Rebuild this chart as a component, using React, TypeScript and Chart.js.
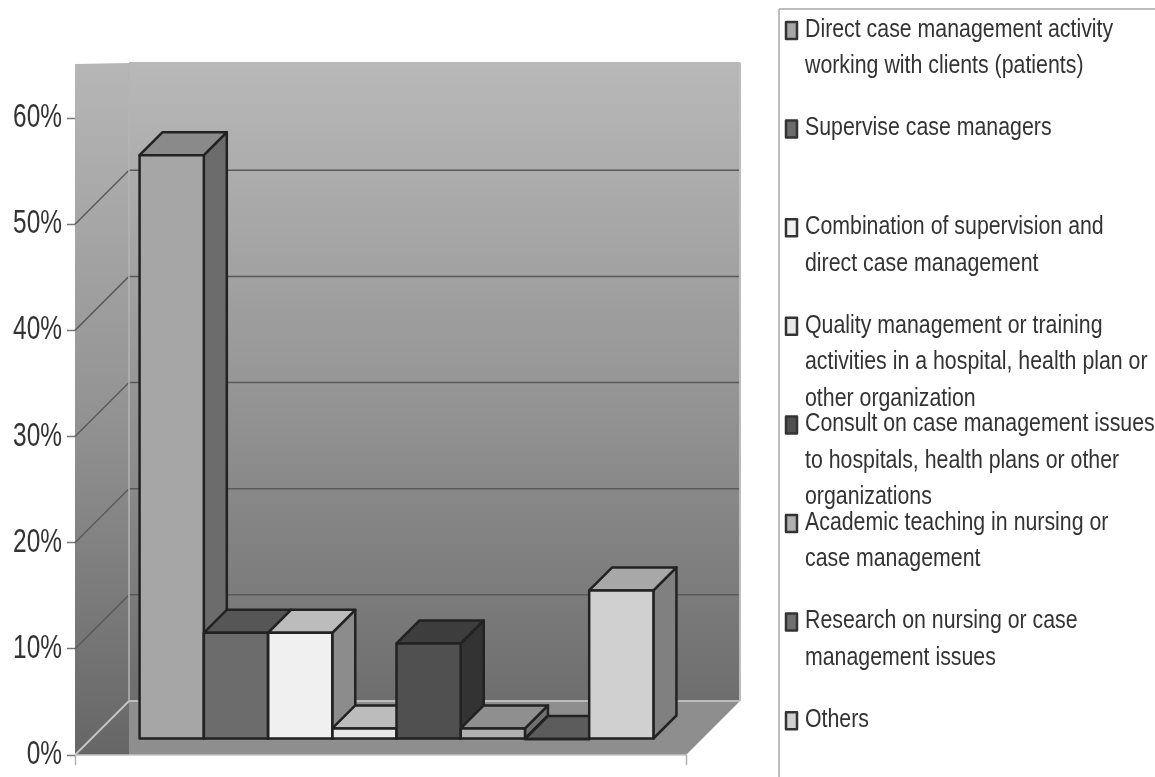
import React, { useEffect, useRef } from "react";
import { Chart, registerables } from "chart.js";

Chart.register(...registerables);

// Share of respondents per primary job activity (percent)
const activityShare = [55, 10, 10, 1, 9, 1, 0, 14];

const activityLabels = [
  ["Direct case management activity", "working with clients (patients)"],
  ["Supervise case managers"],
  ["Combination of supervision and", "direct case management"],
  ["Quality management or training", "activities in a hospital, health plan or", "other organization"],
  ["Consult on case management issues", "to hospitals, health plans or other", "organizations"],
  ["Academic teaching in nursing or", "case management"],
  ["Research on nursing or case", "management issues"],
  ["Others"],
];

const frontColors = ["#a6a6a6", "#6c6c6c", "#f0f0f0", "#e8e8e8", "#505050", "#b0b0b0", "#707070", "#d0d0d0"];
const sideColors = ["#6c6c6c", "#505050", "#8c8c8c", "#8c8c8c", "#333333", "#707070", "#505050", "#808080"];
const topColors = ["#8a8a8a", "#565656", "#bcbcbc", "#bcbcbc", "#3d3d3d", "#8f8f8f", "#5c5c5c", "#a8a8a8"];

const FONT = '"Liberation Sans", Arial, sans-serif';
const WALL_DEPTH = 54; // oblique offset of the back wall
const BAR_INSET = 16; // how far the bars stand behind the front edge of the floor
const BAR_DEPTH = 23; // oblique depth of each bar
const OUTLINE = "#222222";
const OUTLINE_WIDTH = 2.5;
const TEXT_COLOR = "#333333";

function poly(ctx: CanvasRenderingContext2D, pts: number[][], fill?: any, stroke?: string, lw = 2) {
  ctx.beginPath();
  pts.forEach((p, i) => (i ? ctx.lineTo(p[0], p[1]) : ctx.moveTo(p[0], p[1])));
  ctx.closePath();
  if (fill) {
    ctx.fillStyle = fill;
    ctx.fill();
  }
  if (stroke) {
    ctx.strokeStyle = stroke;
    ctx.lineWidth = lw;
    ctx.lineJoin = "round";
    ctx.stroke();
  }
}

function line(ctx: CanvasRenderingContext2D, x0: number, y0: number, x1: number, y1: number, color: string, lw = 1.5) {
  ctx.beginPath();
  ctx.moveTo(x0, y0);
  ctx.lineTo(x1, y1);
  ctx.strokeStyle = color;
  ctx.lineWidth = lw;
  ctx.stroke();
}

// The type in this chart is tall and narrow, so it is squeezed horizontally
function narrowText(ctx: CanvasRenderingContext2D, text: string, x: number, y: number, squeeze: number) {
  ctx.save();
  ctx.translate(x, y);
  ctx.scale(squeeze, 1);
  ctx.fillText(text, 0, 0);
  ctx.restore();
}

// Walls, floor and the depth faces of the columns; the front faces are the
// library's own bars, shifted back onto the floor by a canvas translation.
const obliqueBars = {
  id: "obliqueBars",
  beforeDatasetsDraw(chart: any) {
    const { ctx, chartArea: a, scales } = chart;
    const y = scales.y;
    const d = WALL_DEPTH;
    const y0 = y.getPixelForValue(0);
    const top = a.top;

    ctx.save();
    const leftGrad = ctx.createLinearGradient(0, top, 0, y0);
    leftGrad.addColorStop(0, "#b6b6b6");
    leftGrad.addColorStop(0.5, "#939393");
    leftGrad.addColorStop(1, "#666666");
    poly(ctx, [[a.left, y0], [a.left + d, y0], [a.left + d, top - 2], [a.left, top - 1]], leftGrad);

    const backGrad = ctx.createLinearGradient(0, top, 0, y0 - d);
    backGrad.addColorStop(0, "#b8b8b8");
    backGrad.addColorStop(0.5, "#969696");
    backGrad.addColorStop(0.85, "#7a7a7a");
    backGrad.addColorStop(1, "#6e6e6e");
    poly(ctx, [[a.left + d, y0 - d], [a.right + d, y0 - d], [a.right + d, top - 3], [a.left + d, top - 3]], backGrad);

    poly(ctx, [[a.left + d, y0], [a.right, y0], [a.right + d, y0 - d], [a.left + d, y0 - d]], "#8e8e8e");

    // Gridlines run along the left wall, then across the back wall
    y.ticks.forEach((t: any) => {
      if (t.value === 0 || t.value === 60) return;
      const py = y.getPixelForValue(t.value);
      line(ctx, a.left, py, a.left + d, py - d, "#5a5a5a");
      line(ctx, a.left + d, py - d, a.right + d, py - d, "#5a5a5a");
    });

    // Pale edges of the floor and the corner
    line(ctx, a.left, y0, a.left + d, y0 - d, "#c4c4c4", 2);
    line(ctx, a.left + d, y0 - d, a.right + d, y0 - d, "#bcbcbc", 2);
    line(ctx, a.left + d, y0 - d, a.left + d, top - 2, "#b4b4b4", 1.5);
    line(ctx, a.left, y0, a.right, y0, "#c4c4c4", 1.5);
    line(ctx, a.right + d, y0 - d, a.right + d, top - 2, "#bdbdbd", 2);

    // Depth faces, left to right so later columns overlap earlier ones
    chart.data.datasets.forEach((_: any, i: number) => {
      const bar = chart.getDatasetMeta(i).data[0];
      const l = bar.x - bar.width / 2 + BAR_INSET;
      const r = bar.x + bar.width / 2 + BAR_INSET;
      const t = bar.y - BAR_INSET;
      const b = bar.base - BAR_INSET;
      const k = BAR_DEPTH;
      poly(ctx, [[r, t], [r + k, t - k], [r + k, b - k], [r, b]], sideColors[i], OUTLINE, OUTLINE_WIDTH);
      poly(ctx, [[l, t], [r, t], [r + k, t - k], [l + k, t - k]], topColors[i], OUTLINE, OUTLINE_WIDTH);
    });
    ctx.restore();

    ctx.save();
    ctx.translate(BAR_INSET, -BAR_INSET);
  },
  afterDatasetsDraw(chart: any) {
    const { ctx } = chart;
    // Still translated here: outline each front face over its fill
    chart.data.datasets.forEach((_: any, i: number) => {
      const bar = chart.getDatasetMeta(i).data[0];
      const l = bar.x - bar.width / 2;
      const r = bar.x + bar.width / 2;
      poly(ctx, [[l, bar.y], [r, bar.y], [r, bar.base], [l, bar.base]], undefined, OUTLINE, OUTLINE_WIDTH);
    });
    ctx.restore();
  },
  afterDraw(chart: any) {
    const { ctx, scales } = chart;
    ctx.save();

    // Value labels beside the axis ticks
    ctx.font = `33px ${FONT}`;
    ctx.fillStyle = TEXT_COLOR;
    ctx.textAlign = "right";
    ctx.textBaseline = "middle";
    scales.y.ticks.forEach((t: any) => {
      narrowText(ctx, `${t.value}%`, 62, scales.y.getPixelForValue(t.value), 0.74);
    });

    // Frame of the key
    line(ctx, 779, 9, 779, 777, "#a8a8a8", 1.5);
    line(ctx, 779, 9, 1155, 9, "#a8a8a8", 1.5);
    const slot = 98.6;
    const lineGap = 36.5;
    ctx.textAlign = "left";
    ctx.font = `25px ${FONT}`;
    activityLabels.forEach((lines, i) => {
      const y = 30 + slot * i;
      poly(ctx, [[786, y - 8], [797, y - 8], [797, y + 9], [786, y + 9]], frontColors[i], "#333333", 2.5);
      ctx.fillStyle = TEXT_COLOR;
      lines.forEach((text, j) => narrowText(ctx, text, 805, y + j * lineGap, 0.853));
    });
    ctx.restore();
  },
};

export default function App() {
  const ref = useRef<HTMLCanvasElement>(null);

  useEffect(() => {
    document.body.style.background = "#ffffff";
    const chart = new Chart(ref.current!, {
      type: "bar",
      data: {
        labels: [""],
        datasets: activityLabels.map((lines, i) => ({
          label: lines.join(" "),
          data: [activityShare[i]],
          backgroundColor: frontColors[i],
          borderWidth: 0,
          barPercentage: 1,
          categoryPercentage: 0.841,
          clip: false as any,
        })),
      },
      options: {
        animation: false,
        responsive: false,
        layout: { padding: { top: 65, right: 469, left: 0, bottom: 0 } },
        plugins: { legend: { display: false }, tooltip: { enabled: false } },
        scales: {
          x: {
            grid: { drawOnChartArea: false, tickColor: "#b0b0b0", tickLength: 10, tickWidth: 1.5 },
            border: { display: false },
            ticks: { display: true, padding: 0, font: { size: 1 } },
            afterFit: (s: any) => {
              s.height = 22;
            },
          },
          y: {
            min: 0,
            max: 65,
            afterBuildTicks: (s: any) => {
              s.ticks = s.ticks.filter((t: any) => t.value <= 60);
            },
            afterFit: (s: any) => {
              s.width = 75;
            },
            grid: { drawOnChartArea: false, tickColor: "#777777", tickLength: 8, tickWidth: 1.5 },
            border: { display: false },
            ticks: { display: false, stepSize: 10 },
          },
        },
      },
      plugins: [obliqueBars],
    } as any);
    return () => chart.destroy();
  }, []);

  return (
    <div style={{ position: "absolute", left: 0, top: 0, width: 1155, height: 777, background: "#fff" }}>
      <canvas ref={ref} width={1155} height={777} style={{ display: "block" }} />
    </div>
  );
}
